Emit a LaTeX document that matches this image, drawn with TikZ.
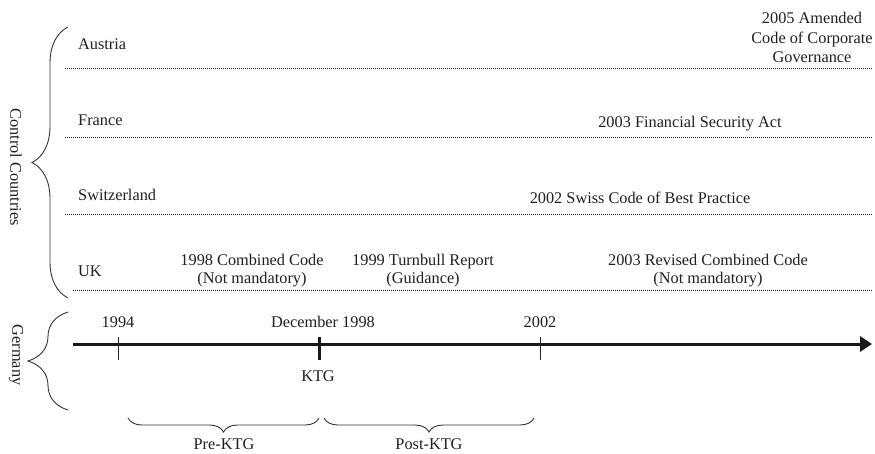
\documentclass[tikz,border=0pt]{standalone}
\usepackage{fontspec}
\setmainfont{Liberation Serif}
\usetikzlibrary{decorations.pathreplacing,arrows.meta}
\begin{document}
\begin{tikzpicture}[x=1pt,y=-1pt,
  txt/.style={font=\fontsize{16.3}{19.5}\selectfont, inner sep=0pt, text=black!88},
  uktxt/.style={font=\fontsize{16.3}{18}\selectfont, inner sep=0pt, text=black!88, align=center},
  dots/.style={line width=1pt, dash pattern=on 1pt off 1pt, black!85},
  brc/.style={decorate, decoration={brace, amplitude=#1}, line width=0.9pt, black!80},
  thintick/.style={line width=0.9pt, black!85},
  thicktick/.style={line width=3pt, black!90}]
\useasboundingbox (0,0) rectangle (875,453);

% side braces and labels
\draw[brc=36] (68,298) -- (68,27);
\node[txt, rotate=-90] (cc) at (16,167) {Control Countries};
\draw[brc=40] (68,410) -- (68,312);
\node[txt, rotate=-90] (ger) at (16,355) {Germany};

% country rows
\node[txt, anchor=west] (aut) at (78,44) {Austria};
\node[txt, anchor=west] (fra) at (78,120) {France};
\node[txt, anchor=west] (sui) at (78,195) {Switzerland};
\node[txt, anchor=west] (uk) at (78,271) {UK};

\coordinate (a1) at (65,68);  \coordinate (a2) at (872,68);
\coordinate (f1) at (65,137); \coordinate (f2) at (872,137);
\coordinate (s1) at (65,214); \coordinate (s2) at (872,214);
\coordinate (u1) at (73,290); \coordinate (u2) at (872,290);
\draw[dots] (a1) -- (a2);
\draw[dots] (f1) -- (f2);
\draw[dots] (s1) -- (s2);
\draw[dots] (u1) -- (u2);

% events
\node[txt, align=center] (e2005) at (812,37.5) {2005 Amended\\Code of Corporate\\Governance};
\node[txt] (e2003f) at (690,124) {2003 Financial Security Act};
\node[txt] (e2002s) at (640,198) {2002 Swiss Code of Best Practice};
\node[uktxt] (e1998) at (252,271) {1998 Combined Code\\(Not mandatory)};
\node[uktxt] (e1999) at (423,271) {1999 Turnbull Report\\(Guidance)};
\node[uktxt] (e2003r) at (708,271) {2003 Revised Combined Code\\(Not mandatory)};

% timeline
\coordinate (t0) at (73,344);
\coordinate (t1) at (872,344);
\draw[line width=3pt, black!90, -{Triangle[length=12pt,width=15pt]}] (t0) -- (t1);
\coordinate (k94a) at (118,337); \coordinate (k94b) at (118,360);
\coordinate (k98a) at (319,337); \coordinate (k98b) at (319,360);
\coordinate (k02a) at (540,337); \coordinate (k02b) at (540,360);
\draw[thintick] (k94a) -- (k94b);
\draw[thicktick] (k98a) -- (k98b);
\draw[thintick] (k02a) -- (k02b);
\node[txt] (l94) at (118,322) {1994};
\node[txt] (l98) at (323,322) {December 1998};
\node[txt] (l02) at (540,322) {2002};
\node[txt] (ktg) at (318,376) {KTG};

% period braces
\draw[brc=14] (319,418) -- (128,418);
\draw[brc=14] (534,418) -- (324,418);
\node[txt] (pre) at (224,444) {Pre-KTG};
\node[txt] (post) at (429,444) {Post-KTG};
\end{tikzpicture}
\end{document}
